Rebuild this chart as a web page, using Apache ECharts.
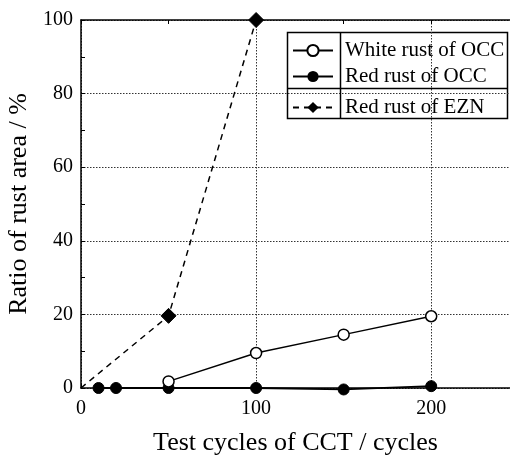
<!DOCTYPE html>
<html><head><meta charset="utf-8">
<script src="https://cdn.jsdelivr.net/npm/echarts@6/dist/echarts.min.js"></script>
<style>html,body{margin:0;padding:0;background:#fff}#c{width:510px;height:456px}</style>
</head><body><div id="c"></div>
<script>
const xTicks = [0, 100, 200];
const yTicks = [0, 20, 40, 60, 80, 100];
const whiteOCC = [[50, 1.8], [100, 9.5], [150, 14.5], [200, 19.5]];
const redOCC = [[10, 0], [20, 0], [50, 0], [100, 0], [150, -0.4], [200, 0.5]];
const redEZN = [[0, 0], [50, 19.6], [100, 100]];
const names = ['White rust of OCC', 'Red rust of OCC', 'Red rust of EZN'];

const F = 'Liberation Serif';
const chart = echarts.init(document.getElementById('c'), null, {renderer: 'canvas'});
const gridColor = '#333';
const legendBase = (name, top) => ({
  data: [name], left: 292, top: top, orient: 'vertical', itemWidth: 40, itemHeight: 14,
  selectedMode: false, padding: 0,
  textStyle: {fontFamily: F, fontSize: 21, color: '#000', padding: [0, 0, 0, 7]}
});
chart.setOption({
  animation: false,
  backgroundColor: '#fff',
  grid: {left: 81, right: 0, top: 20, bottom: 68, outerBoundsMode: 'none', containLabel: false},
  xAxis: [{
    type: 'value', min: 0, max: 245, interval: 100,
    name: 'Test cycles of CCT / cycles', nameLocation: 'middle', nameGap: 42,
    nameTextStyle: {fontFamily: F, fontSize: 26, color: '#000'},
    axisLine: {lineStyle: {color: '#000', width: 1.5}},
    axisTick: {show: true, inside: true, length: 4, lineStyle: {color: '#000'}},
    minorTick: {show: true, splitNumber: 2, length: 4, lineStyle: {color: '#000'}},
    axisLabel: {fontFamily: F, fontSize: 20, color: '#000', margin: 11,
      formatter: v => xTicks.includes(v) ? String(v) : '', showMaxLabel: false},
    splitLine: {show: true, lineStyle: {color: gridColor, type: [1.5, 1.5], width: 1}}
  }, {
    type: 'value', position: 'top', min: 0, max: 245, interval: 100,
    axisLine: {show: true, onZero: false, lineStyle: {color: '#000', width: 1.5}},
    axisTick: {show: true, inside: true, length: 4, lineStyle: {color: '#000'}},
    minorTick: {show: true, splitNumber: 2, length: 4, lineStyle: {color: '#000'}},
    axisLabel: {show: false}, splitLine: {show: false}
  }],
  yAxis: {
    type: 'value', min: 0, max: 100, interval: 20,
    name: 'Ratio of rust area / %', nameLocation: 'middle', nameGap: 40,
    nameTextStyle: {fontFamily: F, fontSize: 26, color: '#000'},
    axisLine: {show: true, lineStyle: {color: '#000', width: 1.5}},
    axisTick: {show: true, inside: true, length: 4, lineStyle: {color: '#000'}},
    minorTick: {show: true, splitNumber: 2, length: 4, lineStyle: {color: '#000'}},
    axisLabel: {fontFamily: F, fontSize: 20, color: '#000', margin: 8,
      formatter: v => yTicks.includes(v) ? String(v) : ''},
    splitLine: {show: true, lineStyle: {color: gridColor, type: [1.5, 1.5], width: 1}}
  },
  legend: [legendBase(names[0], 40), legendBase(names[1], 66), legendBase(names[2], 97)],
  graphic: [
    {type: 'rect', shape: {x: 287.5, y: 32.5, width: 220, height: 86}, style: {fill: '#fff', stroke: '#000', lineWidth: 1.5}, z: 0, zlevel: 0},
    {type: 'line', shape: {x1: 340.5, y1: 32.5, x2: 340.5, y2: 118.5}, style: {stroke: '#000', lineWidth: 1.5}, z: 100},
    {type: 'line', shape: {x1: 287.5, y1: 88.5, x2: 507.5, y2: 88.5}, style: {stroke: '#000', lineWidth: 1.5}, z: 100}
  ],
  series: [
    {name: names[0], type: 'line', data: whiteOCC, symbol: 'circle', symbolSize: 11, clip: false,
      lineStyle: {color: '#000', width: 1.5}, itemStyle: {color: '#fff', borderColor: '#000', borderWidth: 1.5}, z: 5},
    {name: names[1], type: 'line', data: redOCC, symbol: 'circle', symbolSize: 11, clip: false,
      lineStyle: {color: '#000', width: 1.8}, itemStyle: {color: '#000', borderColor: '#000'}, z: 4},
    {name: names[2], type: 'line', data: redEZN.map((p, i) => i === 0 ? {value: p, symbol: 'none'} : p),
      symbol: 'diamond', symbolSize: 15, clip: false,
      lineStyle: {color: '#000', width: 1.5, type: [6, 5]}, itemStyle: {color: '#000', borderColor: '#000'}, z: 3}
  ]
});
</script></body></html>
